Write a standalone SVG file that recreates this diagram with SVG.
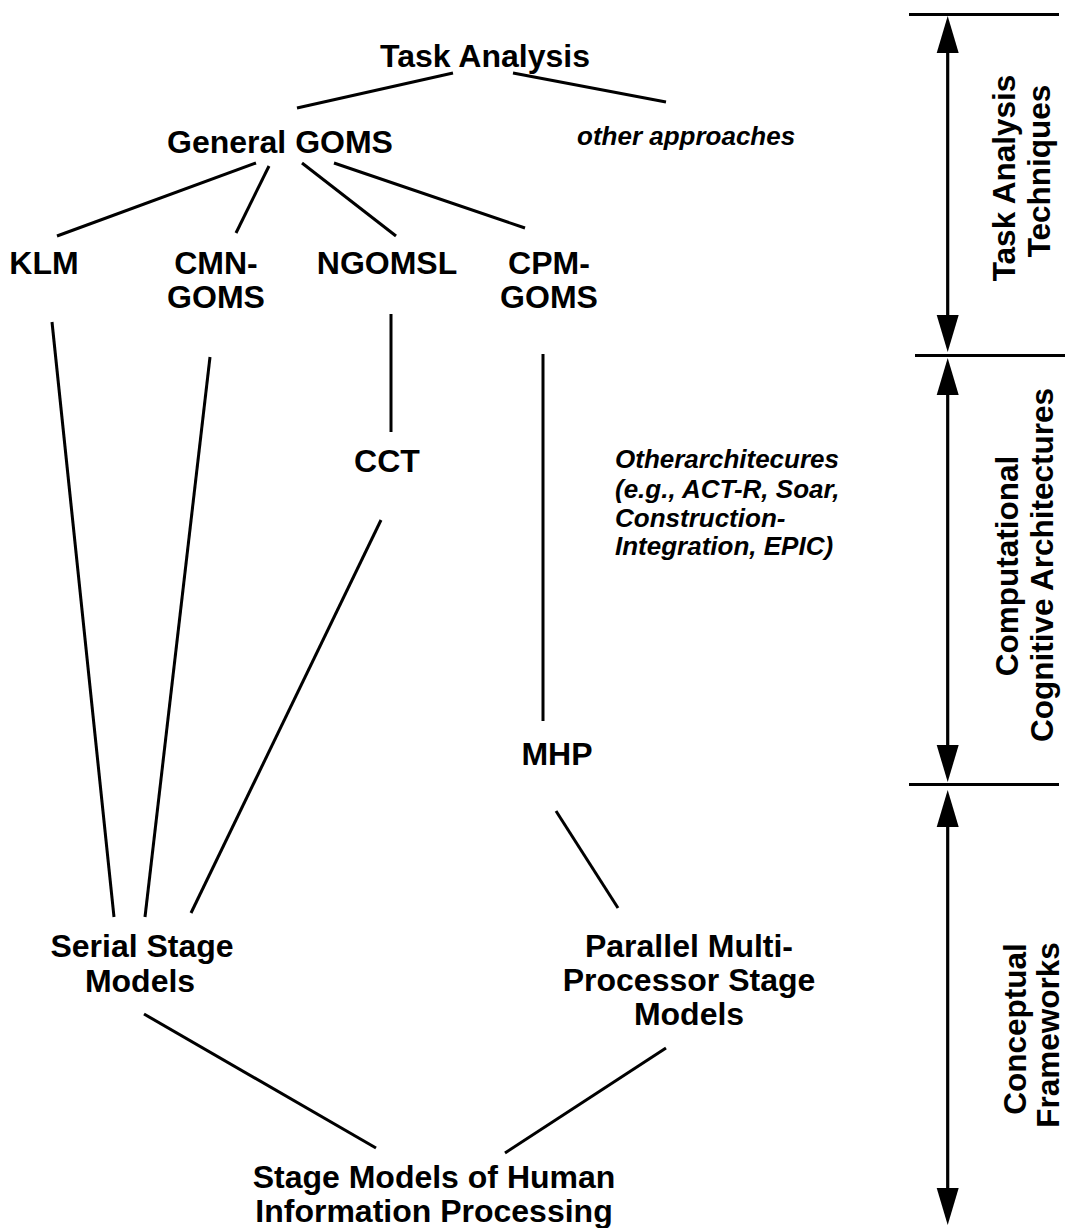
<svg xmlns="http://www.w3.org/2000/svg" width="1065" height="1228" viewBox="0 0 1065 1228">
<style>
  .lbl { font-family: "Liberation Sans", Arial, sans-serif; font-weight: bold; font-size: 32px; fill: #000; text-anchor: middle; }
  .it { font-family: "Liberation Sans", Arial, sans-serif; font-weight: bold; font-style: italic; font-size: 26px; fill: #000; }
  .conn line { stroke: #000; stroke-width: 3; stroke-linecap: butt; }
  .scale line { stroke: #000; stroke-width: 3.2; }
  .side { font-family: "Liberation Sans", Arial, sans-serif; font-weight: bold; font-size: 31.5px; fill: #000; text-anchor: middle; }
</style>
<defs>
  <marker id="head" markerUnits="userSpaceOnUse" markerWidth="38" markerHeight="24" viewBox="0 -12 38 24" refX="0" refY="0" orient="auto-start-reverse">
    <path d="M0,-11 L37,0 L0,11 Z" fill="#000"/>
  </marker>
</defs>
<rect width="1065" height="1228" fill="#fff"/>

<g id="connectors" class="conn">
  <line x1="453" y1="73" x2="297" y2="108"/>
  <line x1="513" y1="73" x2="666" y2="102"/>
  <line x1="256" y1="163" x2="57" y2="236"/>
  <line x1="269" y1="166" x2="236" y2="233"/>
  <line x1="302" y1="163" x2="396" y2="236"/>
  <line x1="334" y1="163" x2="525" y2="228"/>
  <line x1="52" y1="322" x2="114" y2="917"/>
  <line x1="210" y1="357" x2="145" y2="917"/>
  <line x1="391" y1="314" x2="391" y2="432"/>
  <line x1="381" y1="520" x2="191" y2="913"/>
  <line x1="543" y1="354" x2="543" y2="721"/>
  <line x1="556" y1="811" x2="618" y2="908"/>
  <line x1="144" y1="1014" x2="376" y2="1148"/>
  <line x1="666" y1="1048" x2="505" y2="1153"/>
</g>

<g id="task-analysis"><text class="lbl" x="485" y="67">Task Analysis</text></g>
<g id="other-approaches"><text class="it" x="577" y="145">other approaches</text></g>
<g id="general-goms"><text class="lbl" x="280" y="153">General GOMS</text></g>
<g id="klm"><text class="lbl" x="44" y="274">KLM</text></g>
<g id="cmn-goms"><text class="lbl" x="216" y="274">CMN-</text><text class="lbl" x="216" y="308">GOMS</text></g>
<g id="ngomsl"><text class="lbl" x="387" y="274">NGOMSL</text></g>
<g id="cpm-goms"><text class="lbl" x="549" y="274">CPM-</text><text class="lbl" x="549" y="308">GOMS</text></g>
<g id="cct"><text class="lbl" x="387" y="472">CCT</text></g>
<g id="other-architectures">
  <text class="it" x="615" y="468">Otherarchitecures</text>
  <text class="it" x="615" y="498">(e.g., ACT-R, Soar,</text>
  <text class="it" x="615" y="527">Construction-</text>
  <text class="it" x="615" y="555">Integration, EPIC)</text>
</g>
<g id="mhp"><text class="lbl" x="557" y="765">MHP</text></g>
<g id="serial-stage"><text class="lbl" x="142" y="957">Serial Stage</text><text class="lbl" x="140" y="992">Models</text></g>
<g id="parallel-stage">
  <text class="lbl" x="689" y="957">Parallel Multi-</text>
  <text class="lbl" x="689" y="991">Processor Stage</text>
  <text class="lbl" x="689" y="1025">Models</text>
</g>
<g id="stage-models"><text class="lbl" x="434" y="1188">Stage Models of Human</text><text class="lbl" x="434" y="1222">Information Processing</text></g>

<g id="scale" class="scale">
  <line x1="909" y1="14.5" x2="1059" y2="14.5"/>
  <line x1="915" y1="355.5" x2="1065" y2="355.5"/>
  <line x1="909" y1="784.5" x2="1059" y2="784.5"/>
  <line x1="947.7" y1="53" x2="947.7" y2="315" marker-start="url(#head)" marker-end="url(#head)"/>
  <line x1="947.7" y1="395" x2="947.7" y2="745" marker-start="url(#head)" marker-end="url(#head)"/>
  <line x1="947.7" y1="827" x2="947.7" y2="1188" marker-start="url(#head)" marker-end="url(#head)"/>
</g>

<g id="band-task-analysis">
  <text class="side" transform="translate(1015,178) rotate(-90)">Task Analysis</text>
  <text class="side" transform="translate(1050,171) rotate(-90)">Techniques</text>
</g>
<g id="band-cognitive">
  <text class="side" transform="translate(1018,566) rotate(-90)">Computational</text>
  <text class="side" transform="translate(1053,565) rotate(-90)">Cognitive Architectures</text>
</g>
<g id="band-conceptual">
  <text class="side" transform="translate(1026,1029) rotate(-90)">Conceptual</text>
  <text class="side" transform="translate(1059,1035) rotate(-90)">Frameworks</text>
</g>
</svg>
